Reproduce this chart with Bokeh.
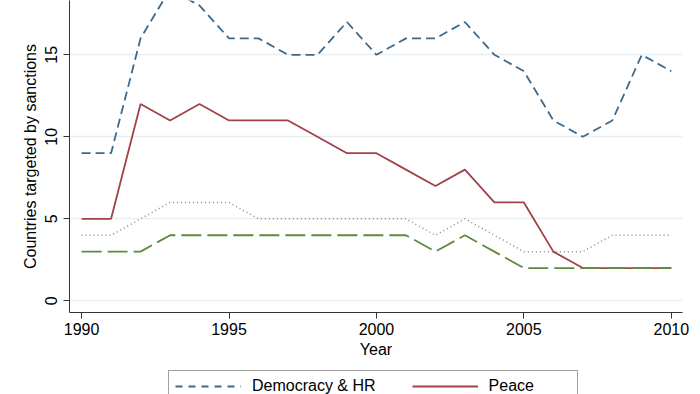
from bokeh.plotting import figure
from bokeh.layouts import column
from bokeh.models import Range1d, FixedTicker, Legend, LegendItem
from bokeh.embed import file_html
from bokeh.resources import INLINE

years = list(range(1990, 2011))
democracy_hr = [9, 9, 16, 19, 18, 16, 16, 15, 15, 17, 15, 16, 16, 17, 15, 14, 11, 10, 11, 15, 14]
peace = [5, 5, 12, 11, 12, 11, 11, 11, 10, 9, 9, 8, 7, 8, 6, 6, 3, 2, 2, 2, 2]
series_dotted = [4, 4, 5, 6, 6, 6, 5, 5, 5, 5, 5, 5, 4, 5, 4, 3, 3, 3, 4, 4, 4]
series_green = [3, 3, 3, 4, 4, 4, 4, 4, 4, 4, 4, 4, 3, 4, 3, 2, 2, 2, 2, 2, 2]
x_ticks = [1990, 1995, 2000, 2005, 2010]
y_ticks = [0, 5, 10, 15]
legend_labels = ["Democracy & HR", "Peace"]

FONT = "Liberation Sans"
DEM_STYLE = dict(line_color="#3d6a8c", line_width=1.8, line_dash="9 5")
PEACE_STYLE = dict(line_color="#a3414a", line_width=1.8)

p = figure(width=692, height=369, output_backend="svg", toolbar_location=None,
           x_range=Range1d(1989.59, 2010.38), y_range=Range1d(-0.71, 18.31),
           min_border_left=69, min_border_right=10, min_border_top=0, min_border_bottom=57)
p.outline_line_color = None
p.background_fill_color = "white"

for ax in (p.xaxis[0], p.yaxis[0]):
    ax.axis_line_color = "#333333"
    ax.major_tick_line_color = "#333333"
    ax.major_tick_out = 6
    ax.major_tick_in = 0
    ax.minor_tick_line_color = None
    ax.major_label_text_font = FONT
    ax.major_label_text_font_size = "16px"
    ax.major_label_text_color = "black"
    ax.axis_label_text_font = FONT
    ax.axis_label_text_font_size = "16px"
    ax.axis_label_text_font_style = "normal"
    ax.axis_label_text_color = "black"

p.xaxis.ticker = FixedTicker(ticks=x_ticks)
p.yaxis.ticker = FixedTicker(ticks=y_ticks)
p.xaxis.axis_label = "Year"
p.yaxis.axis_label = "Countries targeted by sanctions"
p.yaxis.major_label_orientation = "vertical"
p.xaxis.major_label_standoff = 4
p.xaxis.axis_label_standoff = 3
p.yaxis.major_label_standoff = 6
p.yaxis.axis_label_standoff = 4

p.xgrid.grid_line_color = None
p.ygrid.grid_line_color = "#e6eff2"
p.ygrid.grid_line_width = 1.5

p.line(years, democracy_hr, **DEM_STYLE)
p.line(years, peace, **PEACE_STYLE)
p.line(years, series_dotted, line_color="#8a8a8a", line_width=1.5, line_dash="1 3")
p.line(years, series_green, line_color="#5e8a3c", line_width=1.8, line_dash="20 6")

# legend strip (the reference's legend box is cut off by the bottom edge);
# its lines sit outside its y-range, only the legend samples show
pl = figure(width=692, height=25, output_backend="svg", toolbar_location=None,
            x_axis_location=None, y_axis_location=None,
            x_range=Range1d(1989.59, 2010.38), y_range=Range1d(100, 101),
            min_border_left=69, min_border_right=10, min_border_top=0, min_border_bottom=0)
pl.outline_line_color = None
pl.grid.visible = False
r_dem = pl.line(years, democracy_hr, line_color="#3d6a8c", line_width=1.8, line_dash="7 6")
r_peace = pl.line(years, peace, **PEACE_STYLE)

legend = Legend(items=[LegendItem(label=legend_labels[0], renderers=[r_dem]),
                       LegendItem(label=legend_labels[1], renderers=[r_peace])],
                location=(99, -8), orientation="horizontal")
legend.label_text_font = FONT
legend.label_text_font_size = "16px"
legend.label_text_color = "black"
legend.border_line_color = "#444444"
legend.border_line_width = 1
legend.background_fill_color = "white"
legend.background_fill_alpha = 1
legend.padding = 6
legend.margin = 0
legend.spacing = 36
legend.glyph_width = 66
legend.glyph_height = 16
legend.label_height = 16
legend.label_standoff = 11
legend.label_width = 82
pl.add_layout(legend, "center")

layout = column(p, pl, spacing=0)
open("out.html", "w").write(file_html(layout, INLINE))
